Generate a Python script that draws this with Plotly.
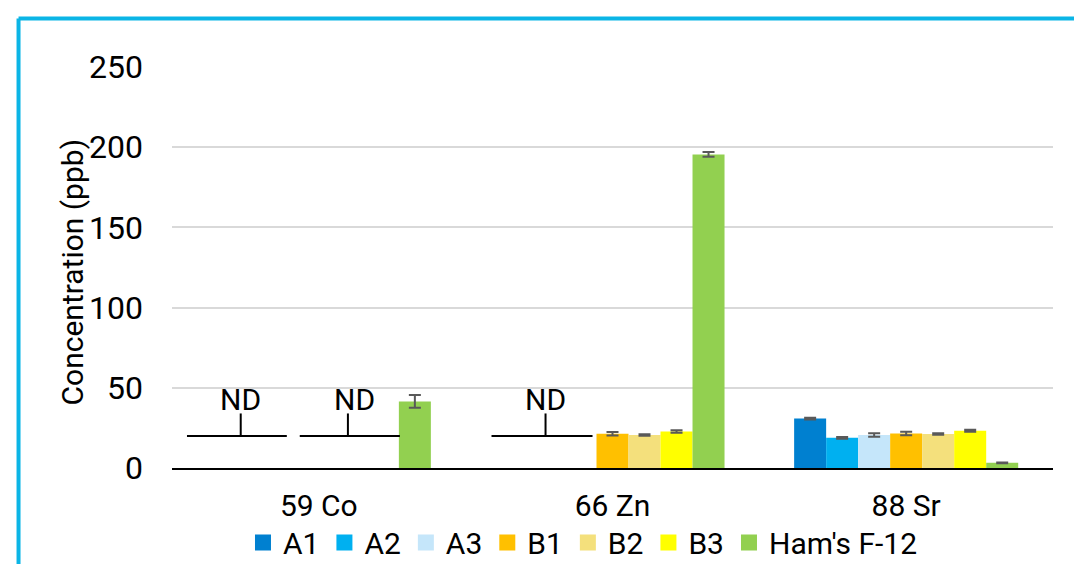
import plotly.graph_objects as go

elements = ["59 Co", "66 Zn", "88 Sr"]
series = ["A1", "A2", "A3", "B1", "B2", "B3", "Ham's F-12"]
# None = not detected (ND)
values = {
    "A1": [None, None, 30.8],
    "A2": [None, None, 18.8],
    "A3": [None, None, 20.6],
    "B1": [None, 21.3, 21.5],
    "B2": [None, 20.6, 21.2],
    "B3": [None, 22.7, 23.2],
    "Ham's F-12": [41.5, 195.5, 3.2],
}
errors = {
    "A1": [None, None, 0.5],
    "A2": [None, None, 0.6],
    "A3": [None, None, 1.1],
    "B1": [None, 1.1, 1.1],
    "B2": [None, 0.5, 0.5],
    "B3": [None, 0.8, 0.6],
    "Ham's F-12": [4.0, 1.5, 0.3],
}
colors = ["#0080D0", "#00B0F0", "#C5E6FA", "#FFC000", "#F4E07C", "#FFFF00", "#92D050"]
y_ticks = [0, 50, 100, 150, 200, 250]
y_title = "Concentration (ppb)"
nd_label = "ND"

font_family = "Roboto, 'Liberation Sans', sans-serif"

fig = go.Figure()
for name, col in zip(series, colors):
    fig.add_trace(go.Bar(
        name=name, x=elements, y=values[name], showlegend=False,
        marker=dict(color=col, line=dict(width=0)),
        error_y=dict(type="data", array=errors[name], visible=True,
                     color="#595959", thickness=2, width=6),
    ))
# legend entries (square swatches)
for name, col in zip(series, colors):
    fig.add_trace(go.Scatter(
        name=name, x=[None], y=[None], mode="markers", showlegend=True,
        marker=dict(color=col, symbol="square", size=16),
    ))

# ND callouts (positions in category units)
nd_callouts = [
    # (x0, x1, xtick, xtext)
    (-0.449, -0.109, -0.266, -0.266),
    (-0.065, 0.276, 0.099, 0.120),
    (0.588, 0.932, 0.772, 0.772),
]
shapes = []
annotations = []
for x0, x1, xt, xtext in nd_callouts:
    shapes.append(dict(type="line", xref="x", yref="y", x0=x0, x1=x1, y0=20, y1=20,
                       line=dict(color="black", width=2)))
    shapes.append(dict(type="line", xref="x", yref="y", x0=xt, x1=xt, y0=20, y1=34,
                       line=dict(color="black", width=2)))
    annotations.append(dict(x=xtext, y=42.5, xref="x", yref="y", text=nd_label,
                            showarrow=False, xanchor="center", yanchor="middle",
                            font=dict(size=30, color="black", family=font_family)))

# outer border (top and left edges visible)
shapes.append(dict(type="line", xref="paper", yref="paper", x0=-0.1742, x1=1.1, y0=1.121, y1=1.121,
                   line=dict(color="#0BB5E6", width=4)))
shapes.append(dict(type="line", xref="paper", yref="paper", x0=-0.1742, x1=-0.1742, y0=1.121, y1=-0.3,
                   line=dict(color="#0BB5E6", width=4)))

annotations.append(dict(x=-0.1124, y=0.49, xref="paper", yref="paper", text=y_title,
                        textangle=-90, showarrow=False, xanchor="center", yanchor="middle",
                        font=dict(size=30, color="black", family=font_family)))

fig.update_layout(
    width=1074, height=556,
    margin=dict(l=164, r=29, t=59, b=96, autoexpand=False),
    paper_bgcolor="white", plot_bgcolor="white",
    barmode="group", bargap=0.237, bargroupgap=0,
    font=dict(family=font_family, size=31, color="black"),
    showlegend=True,
    legend=dict(orientation="h", x=0.4665, xanchor="center", y=-0.186, yanchor="middle",
                font=dict(size=30), itemwidth=30, tracegroupgap=0,
                bgcolor="rgba(0,0,0,0)"),
    shapes=shapes, annotations=annotations,
    xaxis=dict(showline=True, linecolor="black", linewidth=2, ticks="",
               ticklabelstandoff=10, tickfont=dict(size=30), showgrid=False),
    yaxis=dict(range=[0, 250], tickvals=y_ticks, showgrid=True, gridcolor="#D9D9D9",
               gridwidth=2, zeroline=False, showline=False, ticks="",
               ticklabelstandoff=28, tickfont=dict(size=32)),
)

fig.write_html("out.html")
